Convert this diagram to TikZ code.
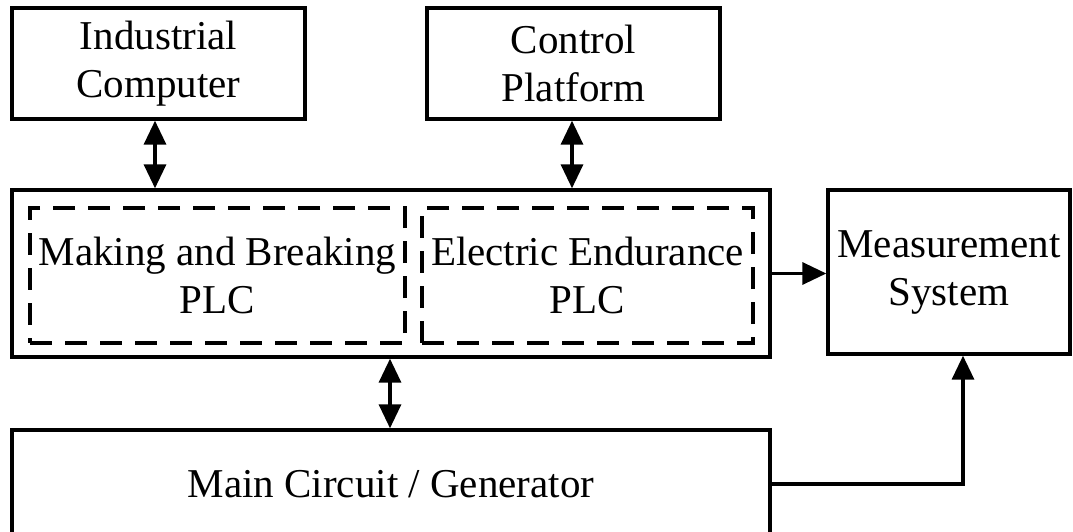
\documentclass[tikz,border=0pt]{standalone}
\usepackage{fontspec}
\setmainfont{Liberation Serif}
\usetikzlibrary{arrows.meta}
\begin{document}
\begin{tikzpicture}[x=1pt,y=-1pt,
  blk/.style={draw, line width=3.4pt, inner sep=0pt, align=center, font=\fontsize{41}{48}\selectfont},
  dbox/.style={draw, line width=3.4pt, dash pattern=on 22pt off 13pt, inner sep=0pt, align=center, font=\fontsize{41}{48}\selectfont},
  arr/.style={line width=3.4pt, -{Triangle[length=24pt,width=22pt]}},
  dbl/.style={line width=3.4pt, {Triangle[length=24pt,width=22pt]}-{Triangle[length=24pt,width=22pt]}}]
\useasboundingbox (0,0) rectangle (1073,532);
\clip (0,0) rectangle (1073,532);
\node[blk, minimum width=293pt, minimum height=111pt] (ic) at (158.5,63.5) {Industrial\\Computer};
\node[blk, minimum width=293pt, minimum height=111pt] (cp) at (573.5,63.5) {Control\\Platform};
\node[blk, minimum width=758pt, minimum height=167pt] (plc) at (391,273.5) {};
\node[dbox, minimum width=375pt, minimum height=135pt] (mb) at (217.5,275.5) {Making and Breaking\\PLC};
\node[dbox, minimum width=331pt, minimum height=135pt] (ee) at (587.5,275.5) {Electric Endurance\\PLC};
\node[blk, minimum width=242pt, minimum height=164pt] (ms) at (949,272) {Measurement\\System};
\node[blk, minimum width=758pt, minimum height=108pt] (mc) at (391,484) {Main Circuit / Generator};
\coordinate (turn) at (963,484);
\draw[dbl] (ic.south -| 155,0) -- (plc.north -| 155,0);
\draw[dbl] (cp.south -| 572,0) -- (plc.north -| 572,0);
\draw[dbl] (plc.south -| 390,0) -- (mc.north -| 390,0);
\draw[arr] (plc.east) -- (plc.east -| ms.west);
\draw[arr] (mc.east) -- (turn) -- (turn |- ms.south);
\end{tikzpicture}
\end{document}
